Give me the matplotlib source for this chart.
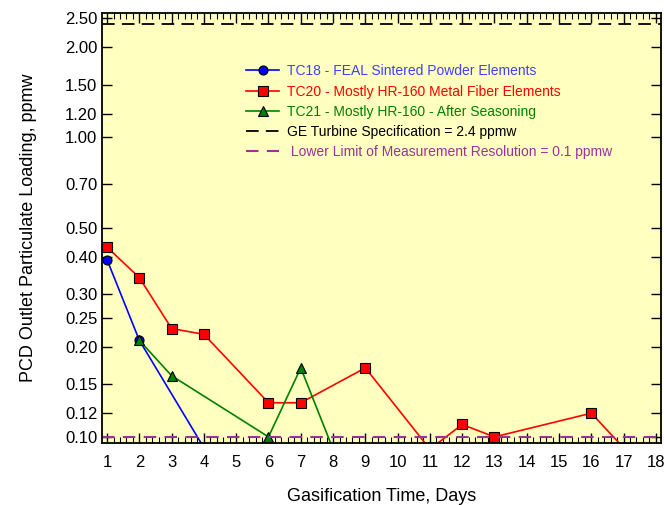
import matplotlib
matplotlib.use('Agg')
from matplotlib import pyplot as plt
from matplotlib.ticker import FixedLocator, FixedFormatter, MultipleLocator, NullLocator

plt.rcParams['font.family'] = ['Liberation Sans', 'DejaVu Sans']

# Data (values below 0.1 ppmw are cut off by the axis)
days_tc18 = [1, 2, 4]
load_tc18 = [0.39, 0.21, 0.092]

days_tc20 = [1, 2, 3, 4, 6, 7, 9, 11, 12, 13, 16, 17]
load_tc20 = [0.43, 0.34, 0.23, 0.22, 0.13, 0.13, 0.17, 0.091, 0.11, 0.10, 0.12, 0.092]

days_tc21 = [2, 3, 6, 7, 8]
load_tc21 = [0.21, 0.16, 0.10, 0.17, 0.091]

ge_spec = 2.4
lower_limit = 0.1

y_ticks = [0.10, 0.12, 0.15, 0.20, 0.25, 0.30, 0.40, 0.50, 0.70, 1.00, 1.20, 1.50, 2.00, 2.50]
x_ticks = list(range(1, 19))

fig = plt.figure(figsize=(6.64, 5.05), dpi=100)
ax = fig.add_axes([0.154, 0.123, 0.841, 0.851])
ax.set_facecolor('#ffffc0')

ax.plot(days_tc18, load_tc18, color='blue', lw=1.2, marker='o', ms=6.5,
        mfc='blue', mec='black', mew=0.8, label='TC18 - FEAL Sintered Powder Elements')
ax.plot(days_tc20, load_tc20, color='red', lw=1.2, marker='s', ms=7,
        mfc='red', mec='black', mew=0.8, label='TC20 - Mostly HR-160 Metal Fiber Elements')
ax.plot(days_tc21, load_tc21, color='#008000', lw=1.2, marker='^', ms=7.5,
        mfc='#008000', mec='black', mew=0.8, label='TC21 - Mostly HR-160 - After Seasoning')
ax.axhline(ge_spec, color='black', lw=1.3, dashes=(7, 4),
           label='GE Turbine Specification = 2.4 ppmw')
ax.axhline(lower_limit, color='#993399', lw=1.5, dashes=(6, 4),
           label=' Lower Limit of Measurement Resolution = 0.1 ppmw')

ax.set_yscale('log')
ax.set_ylim(0.0955, 2.6)
ax.set_xlim(0.85, 18.15)

ax.yaxis.set_major_locator(FixedLocator(y_ticks))
ax.yaxis.set_major_formatter(FixedFormatter(['%.2f' % v for v in y_ticks]))
ax.yaxis.set_minor_locator(NullLocator())
ax.xaxis.set_major_locator(FixedLocator(x_ticks))
ax.xaxis.set_minor_locator(MultipleLocator(0.2))

ax.tick_params(which='both', direction='in', top=True, right=True, labelsize=12)
ax.tick_params(which='major', length=7, width=1)
ax.tick_params(which='minor', length=4, width=0.8)
ax.tick_params(axis='x', pad=9)
for sp in ax.spines.values():
    sp.set_linewidth(1.3)

ax.set_xlabel('Gasification Time, Days', fontsize=13, labelpad=13)
ax.set_ylabel('PCD Outlet Particulate Loading, ppmw', fontsize=13, labelpad=20)

leg = ax.legend(loc='upper left', bbox_to_anchor=(0.235, 0.91), frameon=False,
                fontsize=10, handlelength=2.4, handletextpad=0.55, labelspacing=0.45)
for txt, col in zip(leg.get_texts(), ['#4040ff', 'red', '#008000', 'black', '#993399']):
    txt.set_color(col)

fig.savefig('out.png', dpi=100)
